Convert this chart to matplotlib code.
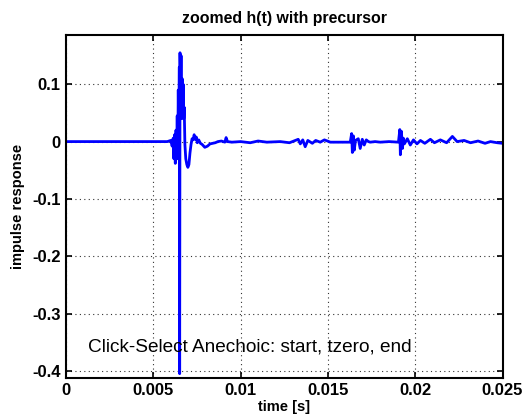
import numpy as np
import matplotlib.pyplot as plt

# impulse response, time in seconds
t_s = [0.0, 0.0058, 0.00600, 0.00608, 0.00614, 0.00618, 0.00622, 0.00626,
       0.00630, 0.00634, 0.00637, 0.00640, 0.00643, 0.00646, 0.00649,
       0.00651, 0.00653, 0.00656, 0.00659, 0.00662, 0.00665, 0.00668,
       0.00671, 0.00674, 0.00677, 0.00681, 0.00686, 0.00692, 0.00698,
       0.00704, 0.00710, 0.00716, 0.00722, 0.00728, 0.00734, 0.00740,
       0.00746, 0.00752, 0.00760, 0.00770, 0.00780, 0.00795, 0.00810,
       0.00825, 0.00840, 0.00855, 0.00870, 0.00890, 0.00910, 0.00917,
       0.00925, 0.00950, 0.01000, 0.01055, 0.01100, 0.01150, 0.01227,
       0.01280, 0.01330, 0.01342, 0.01356, 0.01370, 0.01385, 0.01411,
       0.01430, 0.01456, 0.01480, 0.01514, 0.01570, 0.01628, 0.01636,
       0.01640, 0.01646, 0.01651, 0.01658, 0.01674, 0.01685, 0.01697,
       0.01708, 0.01720, 0.01732, 0.01743, 0.01770, 0.01800, 0.01850,
       0.01904, 0.01912, 0.01915, 0.01921, 0.01927, 0.01932, 0.01938,
       0.01955, 0.01972, 0.01990, 0.02010, 0.02030, 0.02055, 0.02087,
       0.02110, 0.02144, 0.02180, 0.02213, 0.02240, 0.02280, 0.02317,
       0.02360, 0.02400, 0.02431, 0.02470, 0.02500]
h_t = [0.0, 0.0, 0.002, -0.008, 0.006, -0.030, 0.012, -0.038,
       0.020, -0.020, 0.045, -0.030, 0.090, -0.010, 0.130,
       -0.405, 0.155, 0.060, 0.150, 0.040, 0.110, 0.045,
       0.100, 0.040, 0.060, -0.005, -0.030, -0.040, -0.045,
       -0.040, -0.020, -0.005, 0.005, 0.003, 0.012, 0.004,
       0.008, -0.002, 0.003, -0.003, -0.005, -0.010, -0.008,
       -0.004, -0.003, -0.002, 0.000, 0.001, -0.001, 0.007,
       0.000, -0.001, 0.000, -0.002, 0.001, -0.001, 0.000,
       -0.002, 0.004, -0.004, 0.003, -0.009, 0.002, -0.003,
       0.002, -0.001, 0.003, -0.001, -0.001, -0.001, 0.014,
       -0.019, 0.010, -0.015, 0.002, 0.005, -0.012, 0.004,
       -0.006, 0.003, 0.000, -0.001, 0.000, -0.001, 0.000,
       -0.001, 0.021, -0.023, 0.018, -0.012, 0.006, -0.004,
       0.005, -0.006, 0.003, -0.004, 0.002, -0.003, 0.004,
       -0.002, 0.003, -0.002, 0.009, 0.000, 0.002, -0.002,
       0.001, -0.003, 0.000, -0.002, -0.003]

xticks = [0, 0.005, 0.01, 0.015, 0.02, 0.025]
xticklabels = ["0", "0.005", "0.01", "0.015", "0.02", "0.025"]
yticks = [-0.4, -0.3, -0.2, -0.1, 0, 0.1]
yticklabels = ["-0.4", "-0.3", "-0.2", "-0.1", "0", "0.1"]

plt.rcParams['font.family'] = ['Liberation Sans', 'DejaVu Sans']

fig = plt.figure(figsize=(5.22, 4.19), dpi=100)
ax = fig.add_axes([66 / 522., 1 - 377.7 / 419., 436.5 / 522., 342.7 / 419.])

ax.plot(t_s, h_t, color="#0000ff", linewidth=2.0)

ax.set_xlim(0, 0.025)
ax.set_ylim(-0.412, 0.186)
ax.set_xticks(xticks)
ax.set_xticklabels(xticklabels)
ax.set_yticks(yticks)
ax.set_yticklabels(yticklabels)
ax.grid(True, color="#333333", linestyle=(0, (1, 3)), linewidth=0.8)
ax.tick_params(direction="in", top=True, right=True, length=4, width=1.2,
               labelsize=12, pad=4)
for lab in ax.get_xticklabels() + ax.get_yticklabels():
    lab.set_fontweight("bold")
for sp in ax.spines.values():
    sp.set_linewidth(1.5)

ax.set_title("zoomed h(t) with precursor", fontsize=11.4, fontweight="bold",
             pad=9)
ax.set_xlabel("time [s]", fontsize=10.5, fontweight="bold", labelpad=1)
ax.set_ylabel("impulse response", fontsize=10.5, fontweight="bold",
              labelpad=5)
ax.text(0.00126, -0.358, "Click-Select Anechoic: start, tzero, end",
        fontsize=13.7, va="center", ha="left")

fig.savefig("out.png", dpi=100)
